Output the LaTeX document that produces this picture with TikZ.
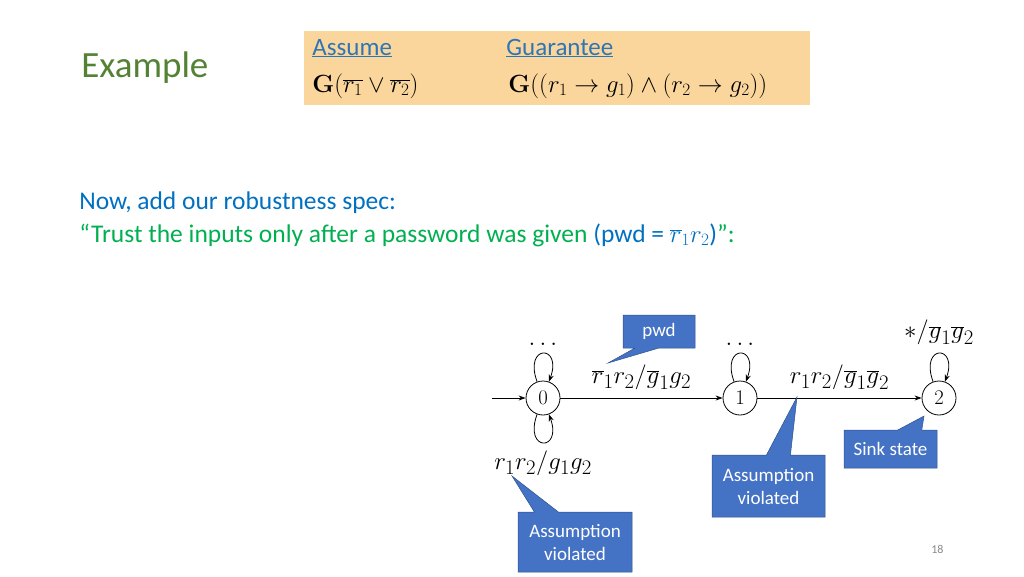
\documentclass[tikz,border=0pt]{standalone}
\usepackage[no-math]{fontspec}
\setmainfont{Carlito}
\usepackage{tikz}
\usetikzlibrary{shapes.callouts,arrows.meta,positioning}
\definecolor{titlegreen}{HTML}{548235}
\definecolor{boxorange}{HTML}{FAD69C}
\definecolor{linkblue}{HTML}{2E75B6}
\definecolor{specblue}{HTML}{0070C0}
\definecolor{trustgreen}{HTML}{00B050}
\definecolor{calloutblue}{HTML}{4472C4}
\definecolor{calloutedge}{HTML}{2F528F}
\definecolor{numgrey}{HTML}{898989}
\newcommand\fsz[1]{\fontsize{#1}{#1}\selectfont}
\tikzset{
 txt/.style
  = {anchor=base west, inner sep=0pt},
 st/.style
  = {circle, draw, minimum size=34pt, inner sep=0pt, font=\fsz{20}},
 lbl/.style
  = {font=\fsz{30}, inner sep=8pt},
 co/.style
  = {rectangle callout, fill=calloutblue, draw=calloutedge, line width=0.5pt,
     text=white, align=center, inner sep=0pt, callout pointer width=24pt,
     font=\fontsize{19}{23}\selectfont},
}

\begin{document}
\begin{tikzpicture}[x=1pt,y=-1pt,line width=0.8pt,
    >={Stealth[length=7pt,width=5pt]}]
\useasboundingbox (0,0) rectangle (1024,576);

% Title
\node[txt,text=titlegreen,font=\fsz{37}] (title) at (81,77) {Example};

% Assume / guarantee box
\node[fill=boxorange,anchor=north west,inner sep=0pt,
      minimum width=506pt,minimum height=74pt] (box) at (304,31) {};
\node[txt,text=linkblue,font=\fsz{25}] (assume) at (312,55) {\underline{Assume}};
\node[txt,text=linkblue,font=\fsz{25}] (guar) at (506,55) {\underline{Guarantee}};
\node[txt,font=\fsz{24}] (asmf) at (312,92)
  {$\mathbf{G}(\overline{r_1}\vee\overline{r_2})$};
\node[txt,font=\fsz{24}] (guaf) at (508,92)
  {$\mathbf{G}((r_1\rightarrow g_1)\wedge(r_2\rightarrow g_2))$};

% Robustness text
\node[txt,text=specblue,font=\fsz{25.5}] (now) at (79,209) {Now, add our robustness spec:};
\node[txt,font=\fsz{25.5}] (trust) at (79,242)
  {\color{trustgreen}“Trust the inputs only after a password was given
   \textcolor{specblue}{(pwd = $\overline{r}_1r_2$)}”:};

% States
\node[st] (s0) at (543,398) {$0$};
\node[st] (s1) at (740,398) {$1$};
\node[st] (s2) at (939,398) {$2$};
\coordinate (init) at (492,398);

% Transitions
\draw[->] (init) -- (s0);
\draw[->] (s0) -- node[lbl,above] {$\overline{r}_1r_2/\overline{g}_1g_2$} (s1);
\draw[->] (s1) -- node[lbl,above] {$r_1r_2/\overline{g}_1\overline{g}_2$} (s2);

% Self loops
\draw[->] (s0.110) .. controls +(110:40pt) and +(70:40pt) .. node[lbl,above] {$\dots$} (s0.70);
\draw[->] (s0.250) .. controls +(250:40pt) and +(290:40pt) .. node[lbl,below] {$r_1r_2/g_1g_2$} (s0.290);
\draw[->] (s1.110) .. controls +(110:40pt) and +(70:40pt) .. node[lbl,above] {$\dots$} (s1.70);
\draw[->] (s2.110) .. controls +(110:40pt) and +(70:40pt) .. node[lbl,above] {$*/\overline{g}_1\overline{g}_2$} (s2.70);

% Callouts
\coordinate (pwdtip) at (608,363);
\coordinate (midtip) at (797,397);
\coordinate (sinktip) at (924,416);
\coordinate (bottip) at (512,476);
\node[co,minimum width=72pt,minimum height=33pt,
      callout absolute pointer={(pwdtip)}] (pwd) at (659,331.5) {pwd};
\node[co,minimum width=113pt,minimum height=62pt,
      callout absolute pointer={(midtip)}] (viol1) at (768.5,486) {Assumption\\violated};
\node[co,minimum width=93pt,minimum height=38pt,
      callout absolute pointer={(sinktip)}] (sink) at (890.5,449) {Sink state};
\node[co,minimum width=114pt,minimum height=60pt,
      callout absolute pointer={(bottip)}] (viol2) at (575,542) {Assumption\\violated};

% Page number
\node[txt,text=numgrey,font=\fsz{12}] (pnum) at (931,553) {18};

\end{tikzpicture}
\end{document}
